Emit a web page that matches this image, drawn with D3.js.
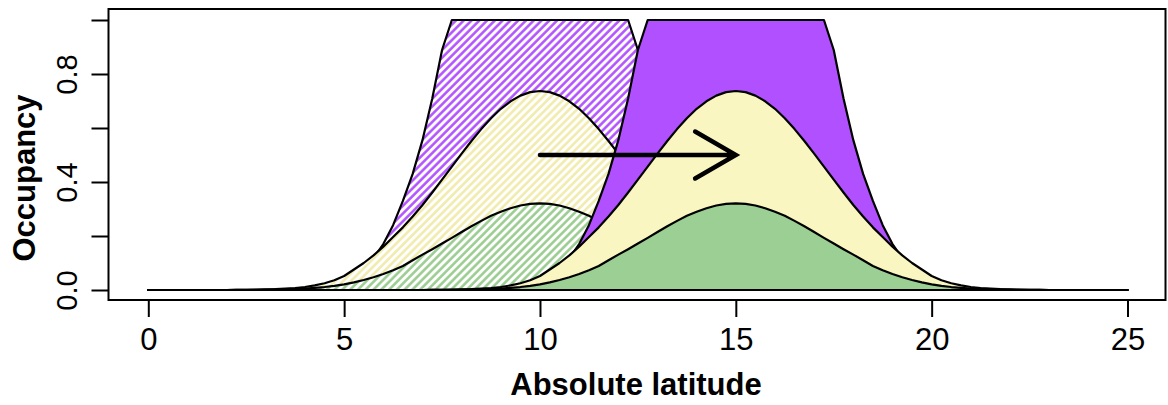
<!DOCTYPE html>
<html>
<head>
<meta charset="utf-8">
<script src="https://cdn.jsdelivr.net/npm/d3@7"></script>
<style>
	body { margin: 0; background: #fff; }
	svg { display: block; font-family: "Liberation Sans", Arial, Helvetica, sans-serif; }
</style>
</head>
<body>
<svg id="occupancy-chart" width="1168" height="405"></svg>
<script>
const offsetStep = 0.25;
const purpleProfile = [1, 1, 1, 1, 1, 1, 1, 1, 1, 1, 0.889, 0.709, 0.555, 0.43, 0.33, 0.24, 0.17, 0.118, 0.081, 0.054, 0.036, 0.023, 0.015, 0.009, 0.005, 0.003, 0.002, 0.001, 0.0005, 0, 0, 0, 0];
const yellowProfile = [0.737, 0.733, 0.72, 0.699, 0.671, 0.636, 0.596, 0.552, 0.505, 0.457, 0.409, 0.361, 0.315, 0.272, 0.232, 0.196, 0.16, 0.128, 0.1, 0.076, 0.052, 0.036, 0.025, 0.017, 0.011, 0.007, 0.005, 0.003, 0.002, 0.0015, 0.001, 0.0005, 0];
const greenProfile = [0.321, 0.319, 0.313, 0.303, 0.29, 0.275, 0.256, 0.236, 0.215, 0.193, 0.172, 0.151, 0.131, 0.11, 0.089, 0.073, 0.059, 0.047, 0.037, 0.028, 0.021, 0.015, 0.011, 0.008, 0.005, 0.004, 0.003, 0.002, 0.001, 0.0008, 0.0005, 0.0002, 0];

const setCentres = [10, 15]; // before (hatched), after (solid)
const latRange = [0, 25];
const arrowFrom = [10, 0.5];
const arrowTo = [15, 0.5];

const xTicks = [0, 5, 10, 15, 20, 25];
const yTicks = [0, 0.2, 0.4, 0.6, 0.8, 1];
const yLabelled = [0, 0.4, 0.8];

const colors = { purple: '#b150ff', yellow: '#faf6c2', green: '#9bcf93' };
const hatchColors = { purple: '#b150ff', yellow: '#f1ebab', green: '#98cc8e' };

const svg = d3.select('svg[id=occupancy-chart]');
const x = d3.scaleLinear().domain(latRange).range([148.3, 1127.5]);
const y = d3.scaleLinear().domain([0, 1]).range([290, 20]);

// hatching patterns, in user space so every shading lines up
const defs = svg.append('defs');
Object.keys(hatchColors).forEach((key) => {
	const p = defs.append('pattern')
		.attr('id', `hatch-${key}`)
		.attr('patternUnits', 'userSpaceOnUse')
		.attr('width', 5.5)
		.attr('height', 10)
		.attr('patternTransform', 'rotate(45)');
	p.append('rect').attr('width', 5.5).attr('height', 10).attr('fill', '#fff');
	p.append('line')
		.attr('x1', 1.4).attr('x2', 1.4).attr('y1', 0).attr('y2', 10)
		.attr('stroke', hatchColors[key]).attr('stroke-width', 2.5);
});

function profilePoints(centre, profile) {
	const pts = [[latRange[0], 0]];
	for (let i = profile.length - 1; i > 0; i--) pts.push([centre - i * offsetStep, profile[i]]);
	for (let i = 0; i < profile.length; i++) pts.push([centre + i * offsetStep, profile[i]]);
	pts.push([latRange[1], 0]);
	return pts.filter((d) => d[0] >= latRange[0] && d[0] <= latRange[1]);
}

const area = d3.area()
	.x((d) => x(d[0]))
	.y0(y(0))
	.y1((d) => y(d[1]));

const layers = [];
setCentres.forEach((centre, s) => {
	[['purple', purpleProfile], ['yellow', yellowProfile], ['green', greenProfile]].forEach(([key, profile]) => {
		layers.push({
			id: `layer-${s}-${key}`,
			points: profilePoints(centre, profile),
			fill: s === 0 ? `url(#hatch-${key})` : colors[key],
		});
	});
});

svg.append('g')
	.selectAll('path')
	.data(layers, (d) => d.id)
	.join('path')
	.attr('d', (d) => area(d.points))
	.attr('fill', (d) => d.fill)
	.attr('stroke', '#000')
	.attr('stroke-width', 2.2)
	.attr('stroke-linejoin', 'round');

// arrow
const ax0 = x(arrowFrom[0]), ay0 = y(arrowFrom[1]);
const ax1 = x(arrowTo[0]), ay1 = y(arrowTo[1]);
const headLen = 47, headAng = Math.PI / 6;
const ang = Math.atan2(ay1 - ay0, ax1 - ax0);
svg.append('path')
	.attr('d', `M${ax0},${ay0}L${ax1},${ay1}` +
		`M${ax1 - headLen * Math.cos(ang - headAng)},${ay1 - headLen * Math.sin(ang - headAng)}L${ax1},${ay1}` +
		`L${ax1 - headLen * Math.cos(ang + headAng)},${ay1 - headLen * Math.sin(ang + headAng)}`)
	.attr('fill', 'none')
	.attr('stroke', '#000')
	.attr('stroke-width', 4.5)
	.attr('stroke-linecap', 'round');

// box
const box = { left: 108.5, right: 1165.5, top: 9, bottom: 300 };
svg.append('rect')
	.attr('x', box.left).attr('y', box.top)
	.attr('width', box.right - box.left).attr('height', box.bottom - box.top)
	.attr('fill', 'none').attr('stroke', '#000').attr('stroke-width', 2);

// axes
const gx = svg.append('g')
	.attr('transform', `translate(0,${box.bottom})`)
	.call(d3.axisBottom(x).tickValues(xTicks).tickSize(17).tickPadding(11).tickSizeOuter(0));
gx.select('.domain').remove();
gx.selectAll('line').attr('stroke-width', 2);
gx.selectAll('text').attr('font-size', 31).attr('fill', '#000');

const gy = svg.append('g')
	.attr('transform', `translate(${box.left},0)`)
	.call(d3.axisLeft(y).tickValues(yTicks).tickSize(17).tickSizeOuter(0)
		.tickFormat((d) => (yLabelled.includes(d) ? d3.format('.1f')(d) : '')));
gy.select('.domain').remove();
gy.selectAll('line').attr('stroke-width', 2);
gy.selectAll('text')
	.attr('font-size', 29)
	.attr('fill', '#000')
	.attr('x', 0)
	.attr('dy', 0)
	.attr('text-anchor', 'middle')
	.attr('transform', `translate(${77 - box.left},0) rotate(-90)`);

// axis titles
svg.append('text')
	.attr('x', 636).attr('y', 395)
	.attr('text-anchor', 'middle')
	.attr('font-size', 31).attr('font-weight', 'bold')
	.text('Absolute latitude');

svg.append('text')
	.attr('transform', 'translate(35,178) rotate(-90)')
	.attr('text-anchor', 'middle')
	.attr('font-size', 31).attr('font-weight', 'bold')
	.text('Occupancy');
</script>
</body>
</html>
